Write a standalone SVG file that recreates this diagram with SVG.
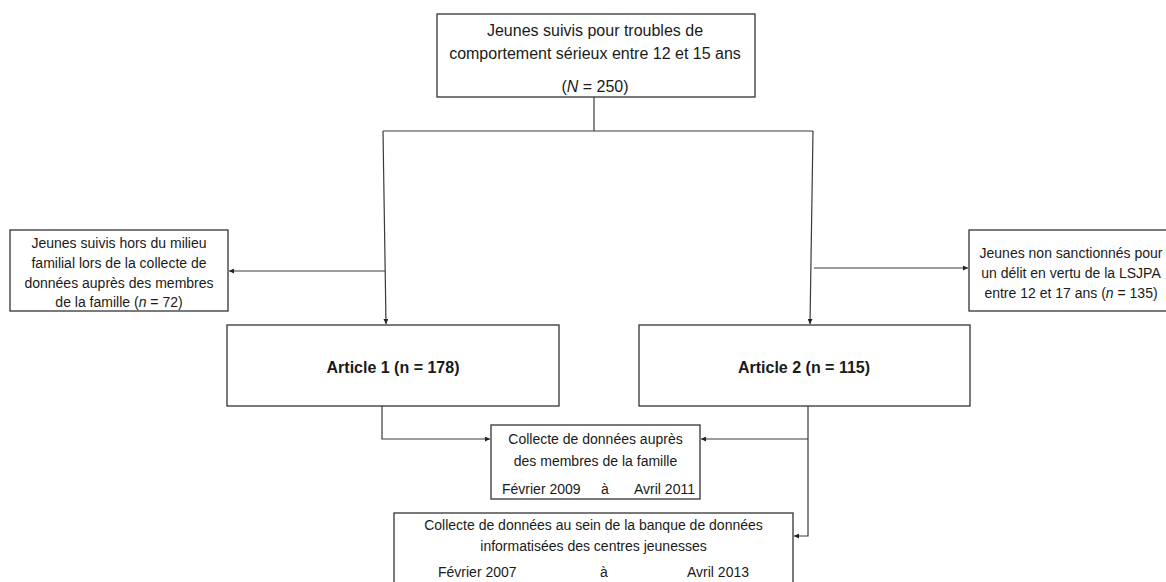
<svg xmlns="http://www.w3.org/2000/svg" width="1166" height="582" viewBox="0 0 1166 582">
<style>
.box{fill:#fff;stroke:#333;stroke-width:1.3}
.c{fill:none;stroke:#3a3a3a;stroke-width:1.2}
text{font-family:"Liberation Sans",Arial,sans-serif;fill:#1a1a1a}
.t16{font-size:16px;text-anchor:middle}
.t14{font-size:14px;text-anchor:middle}
.b{font-size:16px;font-weight:bold;text-anchor:middle}
.s14{font-size:14px}
</style>
<defs>
<marker id="ah" viewBox="0 0 10 10" refX="10" refY="5" markerWidth="6" markerHeight="5" markerUnits="userSpaceOnUse" orient="auto">
<path d="M0,0 L10,5 L0,10 z" fill="#222"/>
</marker>
</defs>
<rect width="1166" height="582" fill="#fff"/>
<g id="connectors">
<path class="c" d="M594 97 V131"/>
<path class="c" d="M383 131 H813"/>
<path class="c" d="M383 131 L386 324" marker-end="url(#ah)"/>
<path class="c" d="M813 131 L810 324" marker-end="url(#ah)"/>
<path class="c" d="M385 271 H229" marker-end="url(#ah)"/>
<path class="c" d="M814 268 H968" marker-end="url(#ah)"/>
<path class="c" d="M382 406 V439 H490" marker-end="url(#ah)"/>
<path class="c" d="M808 406 V536 H794" marker-end="url(#ah)"/>
<path class="c" d="M808 439 H701" marker-end="url(#ah)"/>
</g>
<g id="n_top">
<rect class="box" x="437" y="14" width="318" height="83"/>
<text class="t16" x="595" y="36">Jeunes suivis pour troubles de</text>
<text class="t16" x="595" y="59">comportement sérieux entre 12 et 15 ans</text>
<text class="t16" x="595" y="92">(<tspan font-style="italic">N</tspan> = 250)</text>
</g>
<g id="n_left">
<rect class="box" x="10" y="230" width="218" height="81"/>
<text class="t14" x="119" y="248">Jeunes suivis hors du milieu</text>
<text class="t14" x="119" y="268">familial lors de la collecte de</text>
<text class="t14" x="119" y="288">données auprès des membres</text>
<text class="t14" x="119" y="307">de la famille (<tspan font-style="italic">n</tspan> = 72)</text>
</g>
<g id="n_right">
<rect class="box" x="969" y="230" width="205" height="81"/>
<text class="t14" x="1071" y="258">Jeunes non sanctionnés pour</text>
<text class="t14" x="1071" y="278">un délit en vertu de la LSJPA</text>
<text class="t14" x="1071" y="298">entre 12 et 17 ans (<tspan font-style="italic">n</tspan> = 135)</text>
</g>
<g id="n_article1">
<rect class="box" x="227" y="325" width="332" height="81"/>
<text class="b" x="393" y="373">Article 1 (n = 178)</text>
</g>
<g id="n_article2">
<rect class="box" x="639" y="325" width="331" height="81"/>
<text class="b" x="804" y="373">Article 2 (n = 115)</text>
</g>
<g id="n_family">
<rect class="box" x="491" y="425" width="209" height="74"/>
<text class="t14" x="595.5" y="444">Collecte de données auprès</text>
<text class="t14" x="595.5" y="466">des membres de la famille</text>
<text class="s14" x="502" y="494">Février 2009</text>
<text class="t14" x="605" y="494">à</text>
<text class="s14" x="634" y="494">Avril 2011</text>
</g>
<g id="n_database">
<rect class="box" x="394" y="513" width="399" height="80"/>
<text class="t14" x="593.5" y="530">Collecte de données au sein de la banque de données</text>
<text class="t14" x="593.5" y="551">informatisées des centres jeunesses</text>
<text class="s14" x="438" y="577">Février 2007</text>
<text class="t14" x="604" y="577">à</text>
<text class="s14" x="687" y="577">Avril 2013</text>
</g>
</svg>
